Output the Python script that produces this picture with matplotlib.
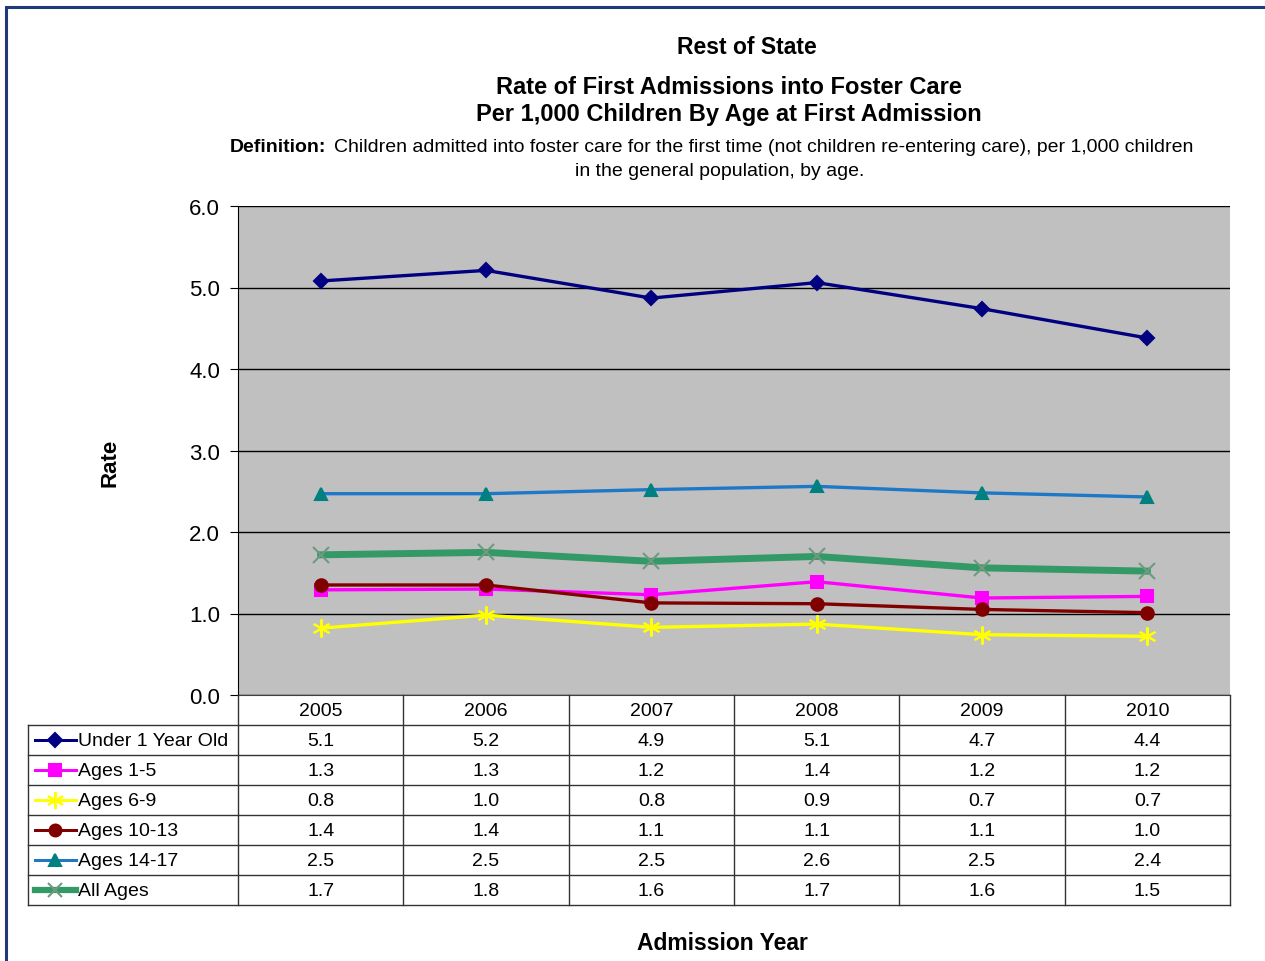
import numpy as np
import matplotlib.pyplot as plt
from matplotlib.lines import Line2D

plt.rcParams['font.family'] = ['Liberation Sans', 'DejaVu Sans']

# data
years = ['2005', '2006', '2007', '2008', '2009', '2010']
names = ['Under 1 Year Old', 'Ages 1-5', 'Ages 6-9', 'Ages 10-13', 'Ages 14-17', 'All Ages']
under1 = [5.08, 5.21, 4.87, 5.06, 4.74, 4.38]
ages1_5 = [1.29, 1.30, 1.23, 1.39, 1.19, 1.21]
ages6_9 = [0.82, 0.98, 0.83, 0.87, 0.74, 0.72]
ages10_13 = [1.35, 1.35, 1.13, 1.12, 1.05, 1.01]
ages14_17 = [2.47, 2.47, 2.52, 2.56, 2.48, 2.43]
all_ages = [1.72, 1.75, 1.64, 1.70, 1.56, 1.52]
table_text = [
    ['5.1', '5.2', '4.9', '5.1', '4.7', '4.4'],
    ['1.3', '1.3', '1.2', '1.4', '1.2', '1.2'],
    ['0.8', '1.0', '0.8', '0.9', '0.7', '0.7'],
    ['1.4', '1.4', '1.1', '1.1', '1.1', '1.0'],
    ['2.5', '2.5', '2.5', '2.6', '2.5', '2.4'],
    ['1.7', '1.8', '1.6', '1.7', '1.6', '1.5'],
]
series = [under1, ages1_5, ages6_9, ages10_13, ages14_17, all_ages]

# style per series: line colour, marker, marker colour, line width, marker size
styles = [
    dict(color='#000080', marker='D', mfc='#000080', mec='#000080', lw=2.4, ms=7),
    dict(color='#FF00FF', marker='s', mfc='#FF00FF', mec='#FF00FF', lw=2.4, ms=9),
    dict(color='#FFFF00', marker=(6, 2, 0), mfc='#FFFF00', mec='#FFFF00', lw=2.4, ms=13),
    dict(color='#800000', marker='o', mfc='#800000', mec='#800000', lw=2.4, ms=9),
    dict(color='#1E78C8', marker='^', mfc='#008080', mec='#008080', lw=2.4, ms=9),
    dict(color='#339966', marker='x', mfc='#6E9A80', mec='#6E9A80', lw=5, ms=11),
]

W, H = 1265, 962
fig = plt.figure(figsize=(W / 100, H / 100), dpi=100)
fig.patch.set_facecolor('white')

L, R, T, B = 238, 1230, 207, 696
ax = fig.add_axes([L / W, 1 - B / H, (R - L) / W, (B - T) / H])
ax.set_facecolor('#C0C0C0')
x = np.arange(len(years))
for vals, st in zip(series, styles):
    ax.plot(x, vals, color=st['color'], lw=st['lw'], marker=st['marker'],
            mfc=st['mfc'], mec=st['mec'], ms=st['ms'], mew=1.5, zorder=3)
ax.set_xlim(-0.5, len(years) - 0.5)
ax.set_ylim(0, 6)
ax.set_yticks(np.arange(0, 7, 1))
ax.set_yticklabels([f'{v:.1f}' for v in np.arange(0, 7, 1)], fontsize=16)
ax.set_xticks([])
ax.grid(axis='y', color='black', lw=1)
ax.set_axisbelow(True)
for s in ['top', 'right']:
    ax.spines[s].set_visible(False)
ax.spines['left'].set_color('black')
ax.spines['bottom'].set_color('#404040')
ax.tick_params(axis='y', direction='out', length=6, color='black', pad=7)

# overlay in pixel coords for table, titles and frame
ov = fig.add_axes([0, 0, 1, 1], zorder=5)
ov.set_xlim(0, W)
ov.set_ylim(H, 0)
ov.axis('off')
ov.patch.set_alpha(0)

# frame
ov.plot([6, 6, W], [H, 8, 8], color='#1F3A7A', lw=2.2, solid_joinstyle='miter')

ov.text(747, 47, 'Rest of State', ha='center', va='center', fontsize=16.5, fontweight='bold')
ov.text(729, 87, 'Rate of First Admissions into Foster Care', ha='center', va='center',
        fontsize=17, fontweight='bold')
ov.text(729, 115, 'Per 1,000 Children By Age at First Admission', ha='center', va='center',
        fontsize=17, fontweight='bold')
ov.text(230, 147, 'Definition:', ha='left', va='center', fontsize=14, fontweight='bold')
ov.text(334, 147, 'Children admitted into foster care for the first time (not children '
        're-entering care), per 1,000 children', ha='left', va='center', fontsize=14)
ov.text(720, 171, 'in the general population, by age.', ha='center', va='center', fontsize=14)
ov.text(722, 944, 'Admission Year', ha='center', va='center', fontsize=16.5, fontweight='bold')
ov.text(110, 463, 'Rate', ha='center', va='center', fontsize=16, fontweight='bold', rotation=90)

# data table
colw = (R - L) / len(years)
rowh = 30
tl = 28
lc = '#333333'
fs = 14
for j, yr in enumerate(years):
    ov.text(L + (j + 0.5) * colw, B + rowh / 2 + 1, yr, ha='center', va='center', fontsize=fs)
for j in range(len(years) + 1):
    ov.plot([L + j * colw] * 2, [B, B + rowh * (len(names) + 1)], color=lc, lw=1)
bot = B + rowh * (len(names) + 1)
ov.plot([tl, tl], [B + rowh, bot], color=lc, lw=1)
for i in range(len(names) + 1):
    yy = B + rowh * (i + 1)
    ov.plot([tl, R], [yy, yy], color=lc, lw=1)
for i, (nm, st) in enumerate(zip(names, styles)):
    yc = B + rowh * (i + 1) + rowh / 2
    ov.add_line(Line2D([35, 76], [yc, yc], color=st['color'], lw=st['lw'] * 0.9))
    ov.plot([55], [yc], marker=st['marker'], mfc=st['mfc'], mec=st['mec'],
            ms=st['ms'] * 0.95, mew=1.5)
    ov.text(78, yc + 1, nm, ha='left', va='center', fontsize=fs)
    for j, txt in enumerate(table_text[i]):
        ov.text(L + (j + 0.5) * colw, yc + 1, txt, ha='center', va='center', fontsize=fs)

fig.savefig('out.png', dpi=100, facecolor='white')
